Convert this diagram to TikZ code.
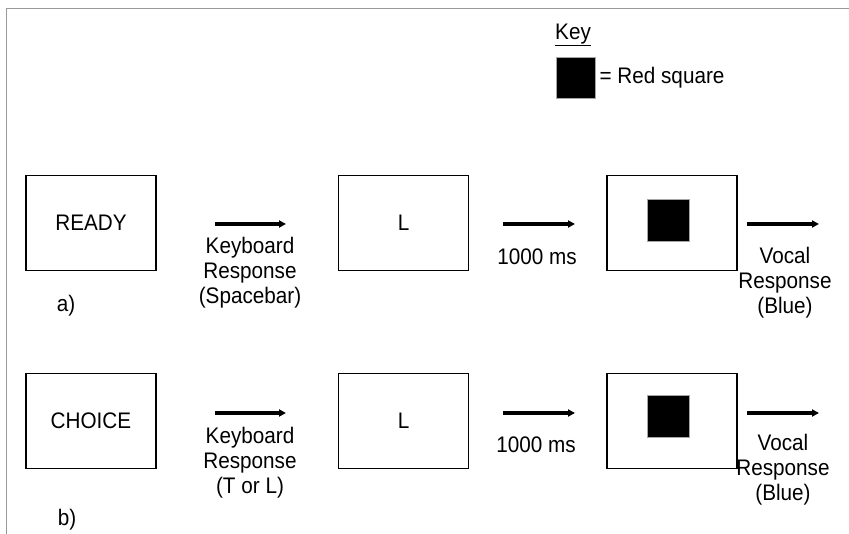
\documentclass[tikz,border=0pt]{standalone}
\usepackage{fontspec}
\setmainfont{Liberation Sans}[FakeStretch=0.92]
\usetikzlibrary{arrows.meta,positioning}

\begin{document}
\begin{tikzpicture}[
        x=1pt, y=-1pt,
        node distance=181pt,
        screen/.style={rectangle, draw, line width=1.6pt, minimum width=130pt, minimum height=95pt, inner sep=0pt, font=\fontsize{22.5}{25}\selectfont},
        stim/.style={rectangle, fill=black, draw=gray!70, line width=0.8pt, minimum size=42pt, inner sep=0pt},
        lbl/.style={font=\fontsize{22.5}{25}\selectfont, align=center, inner sep=0pt},
        arrow/.style={-{Triangle[length=7pt,width=7pt]}, line width=3.2pt}
    ]
        \useasboundingbox (0,0) rectangle (849,534);
        \draw[gray!80, line width=1pt] (6,534) -- (6,9) -- (849,9);

        % Key
        \node[lbl, anchor=west] (keytitle) at (555,35) {\underline{Key}};
        \node[stim, minimum width=39pt, minimum height=41pt] (keysq) at (575.5,77.5) {};
        \node[lbl, anchor=west, right=4pt of keysq] (keytext) {= Red square};

        % Nodes (a)
        \node[screen] (ready) at (91,223) {READY};
        \node[screen, right=of ready] (letA) {L};
        \node[screen, right=137pt of letA] (redA) {};
        \node[stim] (sqA) at (668,220) {};
        \node[lbl] (labA) at (66,306) {a)};

        % Nodes (b)
        \node[screen] (choice) at (91,421) {CHOICE};
        \node[screen, right=of choice] (letB) {L};
        \node[screen, right=137pt of letB] (redB) {};
        \node[stim] (sqB) at (668,416) {};
        \node[lbl] (labB) at (67,520) {b)};

        % Arrow ends
        \coordinate (a1s) at (215,224); \coordinate (a1e) at (286,224);
        \coordinate (a2s) at (503,224); \coordinate (a2e) at (575,224);
        \coordinate (a3s) at (747,224); \coordinate (a3e) at (819,224);
        \coordinate (b1s) at (215,413); \coordinate (b1e) at (286,413);
        \coordinate (b2s) at (503,413); \coordinate (b2e) at (575,413);
        \coordinate (b3s) at (747,413); \coordinate (b3e) at (819,413);

        % Arrows
        \draw[arrow] (a1s) -- (a1e);
        \draw[arrow] (a2s) -- (a2e);
        \draw[arrow] (a3s) -- (a3e);
        \draw[arrow] (b1s) -- (b1e);
        \draw[arrow] (b2s) -- (b2e);
        \draw[arrow] (b3s) -- (b3e);

        % Labels
        \node[lbl] (kbA) at (250,273) {Keyboard\\Response\\(Spacebar)};
        \node[lbl] (msA) at (537,257) {1000 ms};
        \node[lbl] (voA) at (785,283) {Vocal\\Response\\(Blue)};
        \node[lbl] (kbB) at (250,463) {Keyboard\\Response\\(T or L)};
        \node[lbl] (msB) at (536,445) {1000 ms};
        \node[lbl] (voB) at (783,470) {Vocal\\Response\\(Blue)};
    \end{tikzpicture}
\end{document}
